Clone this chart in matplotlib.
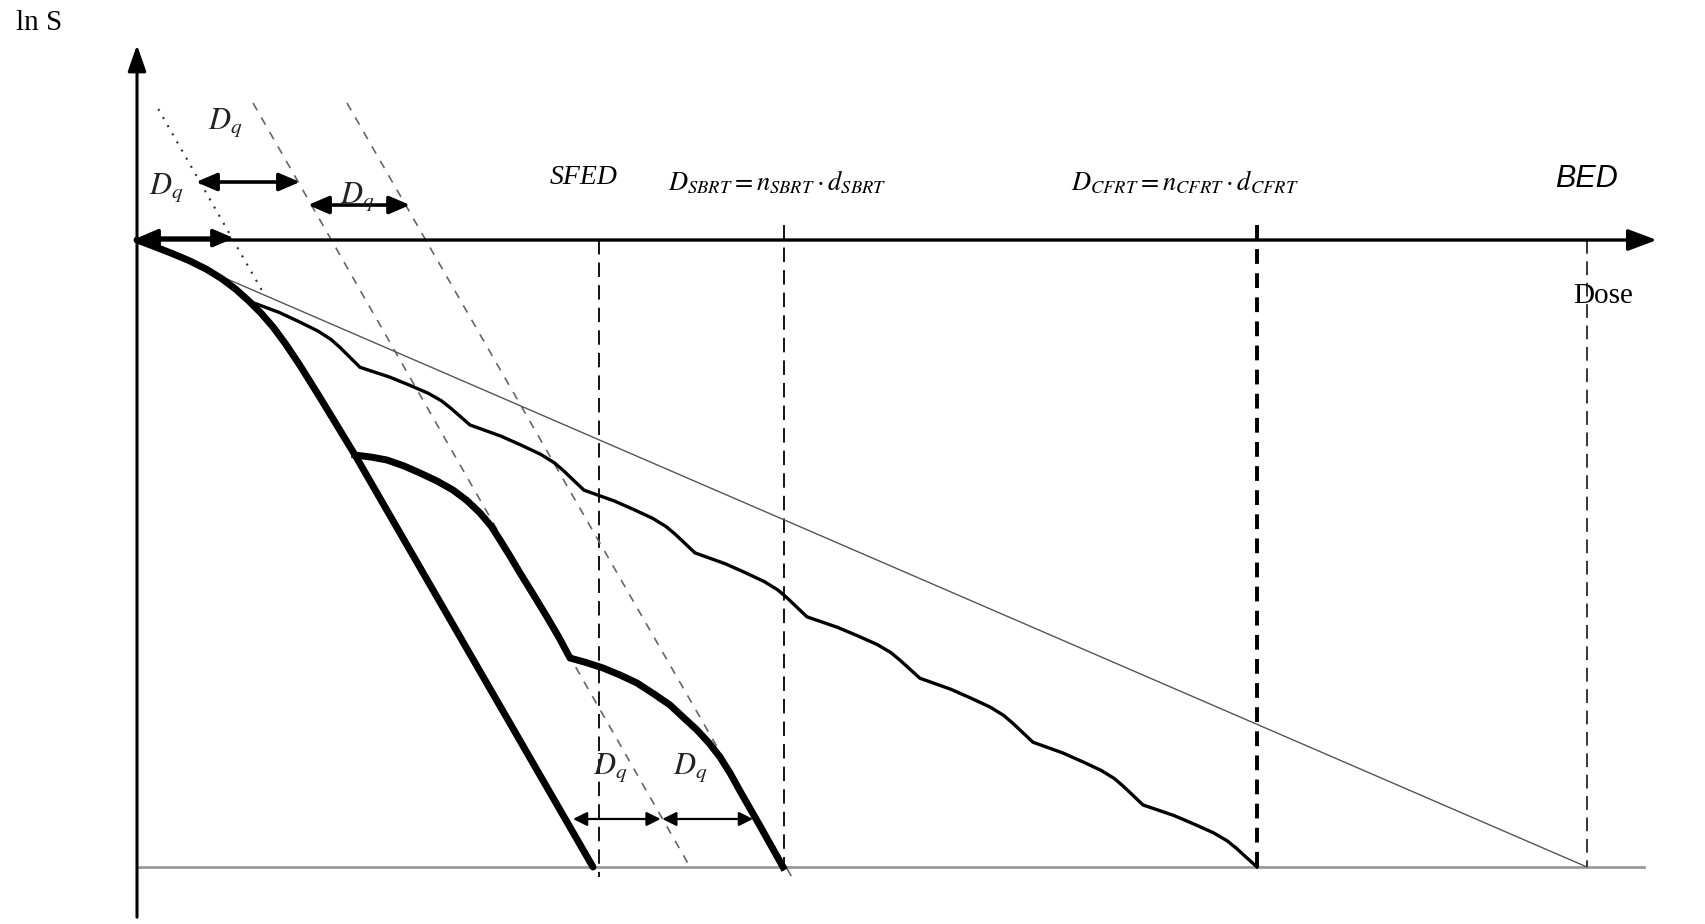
import matplotlib
matplotlib.use("Agg")
import matplotlib.pyplot as plt

plt.rcParams['mathtext.fontset'] = 'stix'

# ---------------- data (dose units, ln S units) ----------------
# single fraction (SFED) survival curve
single_dose = [0, 1.607, 3.125, 4.732, 6.250, 7.589, 8.839, 10.0, 11.071, 12.143,
               13.304, 14.554, 16.339, 19.464, 40.714]
single_lns = [0, -0.108, -0.214, -0.335, -0.471, -0.619, -0.788, -0.975, -1.166, -1.386,
              -1.667, -2.002, -2.512, -3.429, -10.0]

# SBRT (3 fractions) – continues from the end of the first fraction
sbrt_dose = [19.464, 20.98, 22.32, 23.84, 25.27, 26.79, 28.21, 29.46, 30.63, 31.61,
             32.41, 33.30, 34.20, 35.36, 36.61, 37.68, 38.66,
             40.09, 41.61, 43.13, 44.64, 46.16, 47.59, 48.84, 50.00, 51.07,
             52.05, 52.95, 53.84, 55.63, 57.68]
sbrt_lns = [-3.429, -3.464, -3.509, -3.604, -3.716, -3.844, -3.987, -4.155, -4.354, -4.561,
            -4.785, -5.040, -5.311, -5.646, -6.013, -6.340, -6.667,
            -6.738, -6.826, -6.938, -7.065, -7.241, -7.416, -7.624, -7.815, -8.022,
            -8.246, -8.501, -8.788, -9.346, -10.0]

# CFRT (10 fractions)
cfrt_dose = [0, 1.607, 3.125, 4.732, 6.250, 7.589, 8.839, 10.0,
             12.68, 14.46, 16.14, 17.33, 18.13, 19.02, 19.91,
             22.56, 24.33, 26.00, 27.18, 27.96, 28.85, 29.73,
             32.48, 34.31, 36.04, 37.26, 38.08, 38.99, 39.91,
             42.59, 44.37, 46.05, 47.24, 48.04, 48.93, 49.82,
             52.52, 54.32, 56.02, 57.22, 58.02, 58.92, 59.82,
             62.54, 64.36, 66.08, 67.29, 68.09, 69.00, 69.91,
             72.63, 74.45, 76.17, 77.38, 78.18, 79.09, 80.00,
             82.65, 84.42, 86.09, 87.27, 88.05, 88.94, 89.82,
             92.57, 94.40, 96.13, 97.35, 98.17, 99.08, 100.0]
cfrt_lns = [0, -0.108, -0.214, -0.335, -0.471, -0.619, -0.788, -0.975,
            -1.154, -1.302, -1.450, -1.587, -1.714, -1.872, -2.03,
            -2.186, -2.315, -2.444, -2.564, -2.674, -2.812, -2.95,
            -3.127, -3.272, -3.418, -3.553, -3.678, -3.834, -3.99,
            -4.16, -4.30, -4.44, -4.57, -4.69, -4.84, -4.99,
            -5.163, -5.306, -5.449, -5.582, -5.704, -5.857, -6.01,
            -6.177, -6.314, -6.451, -6.578, -6.696, -6.843, -6.99,
            -7.163, -7.306, -7.449, -7.582, -7.704, -7.857, -8.01,
            -8.18, -8.32, -8.46, -8.59, -8.71, -8.86, -9.01,
            -9.178, -9.317, -9.456, -9.584, -9.703, -9.852, -10.0]

# BED straight line
bed_dose = [0, 129.46]
bed_lns = [0, -10.0]

# extrapolated linear parts (Dq construction)
extrap1_dose = [1.9, 11.4]
extrap1_lns = [2.09, -0.88]
extrap2_dose = [10.36, 49.38]
extrap2_lns = [2.185, -10.0]
extrap3_dose = [18.75, 58.66]
extrap3_lns = [2.185, -10.22]

# reference doses (vertical dashed lines)
sfed_x, sbrt_x, cfrt_x, bed_x = 41.25, 57.77, 100.0, 129.46
bottom_lns = -10.0

# Dq arrows: (x_start, x_end, y)
dq_arrows_top = [(0.0, 8.66, 0.03), (5.27, 14.55, 0.925), (15.27, 24.38, 0.558)]
dq_arrows_bottom = [(38.93, 46.75, -9.234), (46.9, 55.0, -9.234)]
dq_label_pos = [(2.59, 0.83), (7.86, 1.87), (19.64, 0.70), (42.23, -8.41), (49.38, -8.41)]

# ---------------- figure ----------------
fig = plt.figure(figsize=(17.05, 9.24), dpi=100)
ax = fig.add_axes([0, 0, 1, 1])
ax.set_xlim(-12.232, 140.0)
ax.set_ylim(-10.909, 3.828)
ax.axis('off')

# bottom gray line
ax.plot([0, 134.55], [bottom_lns, bottom_lns], color='#9a9a9a', lw=2.0, zorder=1)

# axes with arrows
ax.annotate('', xy=(0, 3.11), xytext=(0, -10.8),
            arrowprops=dict(arrowstyle='-|>,head_length=0.8,head_width=0.28',
                            lw=2.2, color='black', shrinkA=0, shrinkB=0,
                            mutation_scale=20), zorder=3)
ax.annotate('', xy=(135.7, 0), xytext=(0, 0),
            arrowprops=dict(arrowstyle='-|>,head_length=0.8,head_width=0.3',
                            lw=2.4, color='black', shrinkA=0, shrinkB=0,
                            mutation_scale=22), zorder=3)

# vertical dashed reference lines
ax.plot([sfed_x, sfed_x], [0, -10.16], color='black', lw=1.3, ls=(0, (8, 4.5)), zorder=2)
ax.plot([sbrt_x, sbrt_x], [0.24, bottom_lns], color='black', lw=1.3, ls=(0, (8, 4.5)), zorder=2)
ax.plot([cfrt_x, cfrt_x], [0.24, bottom_lns], color='black', lw=2.8, ls=(0, (3.8, 2.4)), zorder=2)
ax.plot([bed_x, bed_x], [0, bottom_lns], color='black', lw=1.1, ls=(0, (9, 5)), zorder=2)

# extrapolation lines
ax.plot(extrap1_dose, extrap1_lns, color='#333333', lw=1.5, ls=(0, (1, 3.5)), zorder=2)
ax.plot(extrap2_dose, extrap2_lns, color='#666666', lw=1.2, ls=(0, (5, 5)), zorder=2)
ax.plot(extrap3_dose, extrap3_lns, color='#666666', lw=1.2, ls=(0, (5, 5)), zorder=2)

# BED line
ax.plot(bed_dose, bed_lns, color='#555555', lw=1.0, zorder=3)

# survival curves
ax.plot(cfrt_dose, cfrt_lns, color='black', lw=2.4, solid_joinstyle='round', zorder=4)
ax.plot(sbrt_dose, sbrt_lns, color='black', lw=5, solid_joinstyle='round', zorder=5)
ax.plot(single_dose, single_lns, color='black', lw=5, solid_joinstyle='round',
        solid_capstyle='round', zorder=5)

# Dq arrows
for x0, x1, y in dq_arrows_top:
    ax.annotate('', xy=(x1, y), xytext=(x0, y),
                arrowprops=dict(arrowstyle='<|-|>,head_length=0.7,head_width=0.3',
                                lw=2.6, color='black', shrinkA=0, shrinkB=0,
                                mutation_scale=18), zorder=6)
for x0, x1, y in dq_arrows_bottom:
    ax.annotate('', xy=(x1, y), xytext=(x0, y),
                arrowprops=dict(arrowstyle='<|-|>,head_length=0.6,head_width=0.3',
                                lw=1.6, color='black', shrinkA=0, shrinkB=0,
                                mutation_scale=14), zorder=6)

for (x, y) in dq_label_pos:
    ax.text(x, y, r'$D_q$', fontsize=22, ha='center', va='center', color='#222222', zorder=7)

# labels
ax.text(-8.75, 3.46, 'ln S', fontsize=21, family='Liberation Serif', ha='center', va='center')
ax.text(39.9, 1.0, 'SFED', fontsize=20, family='Liberation Serif', style='italic',
        ha='center', va='center')
ax.text(57.2, 0.91, r'$D_{SBRT} = n_{SBRT} \cdot d_{SBRT}$', fontsize=19,
        ha='center', va='center')
ax.text(93.6, 0.91, r'$D_{CFRT} = n_{CFRT} \cdot d_{CFRT}$', fontsize=19,
        ha='center', va='center')
ax.text(129.4, 0.97, 'BED', fontsize=22, family='Liberation Sans', style='italic',
        ha='center', va='center')
ax.text(130.9, -0.89, 'Dose', fontsize=21, family='Liberation Serif',
        ha='center', va='center')

fig.savefig('out.png', dpi=100)
